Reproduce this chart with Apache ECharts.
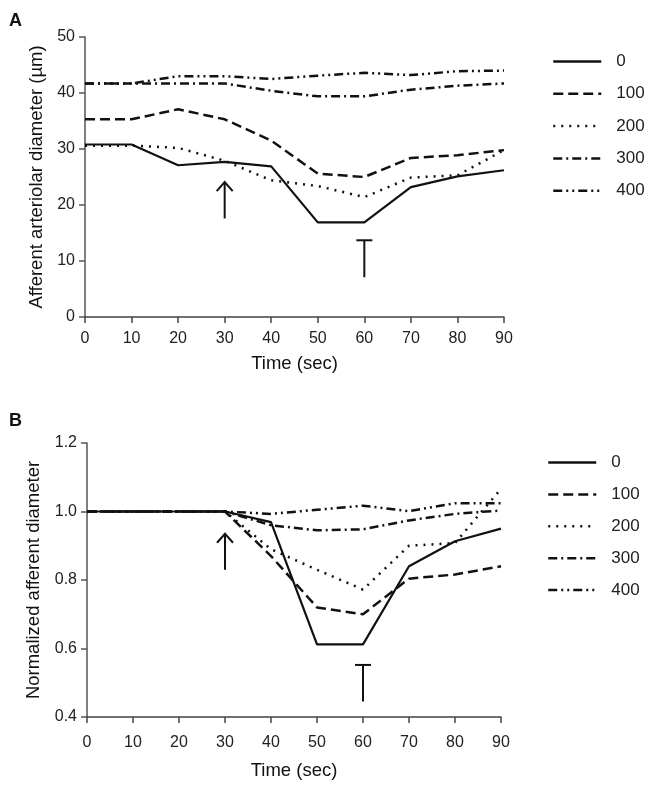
<!DOCTYPE html>
<html><head><meta charset="utf-8">
<script src="https://cdn.jsdelivr.net/npm/echarts@6/dist/echarts.min.js"></script>
<style>html,body{margin:0;padding:0;background:#fff}#c{width:650px;height:786px}</style>
</head><body><div id="c"></div>
<script>
// ---- data ----
const times = [0, 10, 20, 30, 40, 50, 60, 70, 80, 90];
const seriesNames = ['0', '100', '200', '300', '400'];

// Panel A: afferent arteriolar diameter (µm)
const diamA_0   = [30.8, 30.8, 27.1, 27.7, 26.9, 16.9, 16.9, 23.2, 25.1, 26.2];
const diamA_100 = [35.3, 35.3, 37.1, 35.3, 31.5, 25.6, 25.0, 28.4, 28.9, 29.8];
const diamA_200 = [30.6, 30.6, 30.2, 27.9, 24.4, 23.4, 21.4, 24.9, 25.3, 29.8];
const diamA_300 = [41.7, 41.7, 41.7, 41.7, 40.4, 39.4, 39.4, 40.6, 41.3, 41.7];
const diamA_400 = [41.7, 41.7, 43.0, 43.0, 42.5, 43.1, 43.6, 43.2, 43.9, 44.0];

// Panel B: normalized afferent diameter
const normB_0   = [1, 1, 1, 1, 0.969, 0.612, 0.612, 0.840, 0.913, 0.950];
const normB_100 = [1, 1, 1, 1, 0.870, 0.720, 0.700, 0.804, 0.816, 0.840];
const normB_200 = [1, 1, 1, 1, 0.890, 0.830, 0.772, 0.900, 0.908, 1.066];
const normB_300 = [1, 1, 1, 1, 0.960, 0.945, 0.948, 0.974, 0.993, 1.003];
const normB_400 = [1, 1, 1, 1, 0.993, 1.005, 1.017, 1.001, 1.024, 1.024];

// annotations: [x, yStart, yEnd, kind(0 = arrow, 1 = T-bar)]
const annoA = [[30, 17.6, 24.1, 0], [60, 7.1, 13.7, 1]];
const annoB = [[30, 0.830, 0.935, 0], [60, 0.445, 0.552, 1]];

// ---- styles ----
const FONT = '"Liberation Sans", Arial, Helvetica, sans-serif';
const INK = '#111';
const dashStyles = ['solid', [10, 5], [2, 6], [9, 4, 2, 4], [9, 4, 2, 4, 2, 4]];

const seriesA = [diamA_0, diamA_100, diamA_200, diamA_300, diamA_400];
const seriesB = [normB_0, normB_100, normB_200, normB_300, normB_400];

function lineSeries(vals, i, axisIdx) {
  return {
    type: 'line', name: seriesNames[i],
    xAxisIndex: axisIdx, yAxisIndex: axisIdx,
    data: times.map((t, k) => [t, vals[k]]),
    symbol: 'none', smooth: false,
    lineStyle: { color: INK, width: i === 0 ? 2.2 : 2.5, type: dashStyles[i], cap: 'butt' },
    itemStyle: { color: INK },
    z: 3
  };
}

function renderAnno(params, api) {
  const x = api.value(0), ya = api.value(1), yb = api.value(2), kind = api.value(3);
  const p0 = api.coord([x, ya]), p1 = api.coord([x, yb]);
  const style = { stroke: INK, lineWidth: 2, fill: null };
  const children = [{ type: 'line', shape: { x1: p0[0], y1: p0[1], x2: p1[0], y2: p1[1] }, style }];
  if (kind === 0) {
    children.push({ type: 'polyline', shape: { points: [[p1[0] - 8, p1[1] + 9], [p1[0], p1[1]], [p1[0] + 8, p1[1] + 9]] }, style });
  } else {
    children.push({ type: 'line', shape: { x1: p1[0] - 8, y1: p1[1], x2: p1[0] + 8, y2: p1[1] }, style });
  }
  return { type: 'group', children };
}

function annoSeries(data, axisIdx) {
  return {
    type: 'custom', name: 'anno', xAxisIndex: axisIdx, yAxisIndex: axisIdx,
    renderItem: renderAnno, data: data, clip: false, silent: true,
    encode: { x: 0, y: [1, 2] }, z: 4
  };
}

function xAxisCfg(idx, gap, margin) {
  return {
    type: 'value', gridIndex: idx, min: 0, max: 90, interval: 10,
    name: 'Time (sec)', nameLocation: 'middle', nameGap: gap,
    nameTextStyle: { fontFamily: FONT, fontSize: 18.5, color: INK },
    axisLine: { show: true, onZero: false, lineStyle: { color: '#444', width: 1.5 } },
    axisTick: { show: true, length: 6, lineStyle: { color: '#444', width: 1.5 } },
    axisLabel: { fontFamily: FONT, fontSize: 16, color: '#222', margin: margin },
    splitLine: { show: false }
  };
}

function legendCfg(left, top, gap) {
  return {
    data: seriesNames, orient: 'vertical', left: left, top: top,
    itemWidth: 48, itemHeight: 14, itemGap: gap, selectedMode: false,
    itemStyle: { opacity: 0 },
    lineStyle: { width: 2.5 },
    textStyle: { fontFamily: FONT, fontSize: 17, color: '#222', padding: [0, 0, 0, 10] }
  };
}

const option = {
  animation: false,
  backgroundColor: '#fff',
  grid: [
    { left: 85, top: 37, width: 419, height: 280 },
    { left: 87, top: 443, width: 414, height: 274 }
  ],
  xAxis: [xAxisCfg(0, 37, 14), xAxisCfg(1, 44, 18)],
  yAxis: [
    {
      type: 'value', gridIndex: 0, min: 0, max: 50, interval: 10,
      name: 'Afferent arteriolar diameter (µm)', nameLocation: 'middle', nameRotate: 90, nameGap: 38,
      nameTextStyle: { fontFamily: FONT, fontSize: 18.5, color: INK },
      axisLine: { show: true, onZero: false, lineStyle: { color: '#555', width: 1.5 } },
      axisTick: { show: true, length: 6, lineStyle: { color: '#555', width: 1.5 } },
      axisLabel: { fontFamily: FONT, fontSize: 16, color: '#222', margin: 10 },
      splitLine: { show: false }
    },
    {
      type: 'value', gridIndex: 1, min: 0.4, max: 1.2, interval: 0.2,
      name: 'Normalized afferent diameter', nameLocation: 'middle', nameRotate: 90, nameGap: 44,
      nameTextStyle: { fontFamily: FONT, fontSize: 18.5, color: INK },
      axisLine: { show: true, onZero: false, lineStyle: { color: '#555', width: 1.5 } },
      axisTick: { show: true, length: 6, lineStyle: { color: '#555', width: 1.5 } },
      axisLabel: { fontFamily: FONT, fontSize: 16, color: '#222', margin: 10,
        formatter: v => v.toFixed(1) },
      splitLine: { show: false }
    }
  ],
  legend: [legendCfg(547, 48, 15.3), legendCfg(542, 449, 14.9)],
  graphic: [
    { type: 'text', left: 9, top: 12, style: { text: 'A', font: 'bold 18px ' + FONT, fill: INK } },
    { type: 'text', left: 9, top: 412, style: { text: 'B', font: 'bold 18px ' + FONT, fill: INK } }
  ],
  series: [
    ...seriesA.map((v, i) => lineSeries(v, i, 0)),
    ...seriesB.map((v, i) => lineSeries(v, i, 1)),
    annoSeries(annoA, 0),
    annoSeries(annoB, 1)
  ]
};

const chart = echarts.init(document.getElementById('c'), null, { renderer: 'canvas' });
chart.setOption(option);
</script>
</body></html>
